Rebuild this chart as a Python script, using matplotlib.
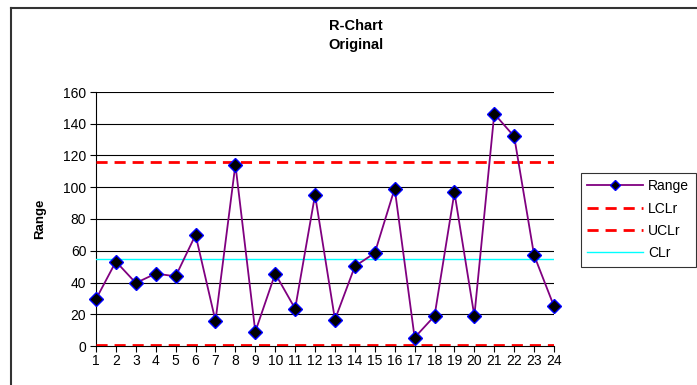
import matplotlib
matplotlib.use("Agg")
import matplotlib.pyplot as plt
from matplotlib.lines import Line2D

plt.rcParams['font.family'] = ['Liberation Sans', 'DejaVu Sans']

samples = list(range(1, 25))
ranges = [29.5, 53.2, 39.7, 45.6, 43.9, 70.0, 15.8, 114.3, 9.0, 45.6, 23.5, 95.2,
          16.6, 50.2, 58.6, 99.2, 5.3, 18.9, 96.7, 18.9, 146.3, 132.0, 57.2, 25.0]
lcl = 0.8
ucl = 116.2
cl = 54.6
yticks = [0, 20, 40, 60, 80, 100, 120, 140, 160]

W, H = 697, 385
fig = plt.figure(figsize=(W / 100, H / 100), dpi=100)

# chart area frame (left and top visible)
fig.add_artist(Line2D([11 / W, 11 / W], [0, 1 - 8 / H], transform=fig.transFigure, color='#333333', lw=1.5))
fig.add_artist(Line2D([11 / W, 1], [1 - 8 / H, 1 - 8 / H], transform=fig.transFigure, color='#333333', lw=1.5))

ax = fig.add_axes([96 / W, 39 / H, (554 - 96) / W, (346 - 92) / H])
for y in yticks[1:]:
    ax.axhline(y, color='black', lw=0.8, zorder=1)

l_range, = ax.plot(samples, ranges, color='#800080', lw=1.3, marker='D', markersize=7,
                   markerfacecolor='black', markeredgecolor='#0000ff', markeredgewidth=1.0,
                   zorder=5, label='Range', clip_on=False)
l_lcl = ax.axhline(lcl, color='#ff0000', lw=2, ls=(0, (4, 2.5)), zorder=3, label='LCLr')
l_ucl = ax.axhline(ucl, color='#ff0000', lw=2, ls=(0, (4, 2.5)), zorder=3, label='UCLr')
l_cl = ax.axhline(cl, color='#00ffff', lw=1, zorder=3, label='CLr')

ax.set_xlim(1, 24)
ax.set_ylim(0, 160)
ax.set_yticks(yticks)
ax.set_xticks(samples)
ax.tick_params(axis='both', labelsize=10, length=4, width=0.8, color='black', pad=3)
ax.tick_params(axis='x', pad=2)
for s in ['top', 'right']:
    ax.spines[s].set_visible(False)
for s in ['left', 'bottom']:
    ax.spines[s].set_linewidth(0.8)
    ax.spines[s].set_color('black')
    ax.spines[s].set_zorder(2)

ax.set_ylabel('Range', fontsize=9.5, fontweight='bold', labelpad=12)

fig.text(356 / W, 1 - 26 / H, 'R-Chart', ha='center', va='center', fontsize=10.5, fontweight='bold')
fig.text(356 / W, 1 - 45 / H, 'Original', ha='center', va='center', fontsize=10.5, fontweight='bold')

leg = fig.legend(handles=[l_range, l_lcl, l_ucl, l_cl], loc='upper left',
                 bbox_to_anchor=(581 / W, 1 - 173 / H), fontsize=10, frameon=True,
                 fancybox=False, edgecolor='black', handlelength=4.0, borderpad=0.45,
                 labelspacing=0.6, handletextpad=0.4, borderaxespad=0)
leg.get_frame().set_linewidth(0.8)
leg.legend_handles[0].set_markersize(5)

fig.savefig('out.png', dpi=100)
